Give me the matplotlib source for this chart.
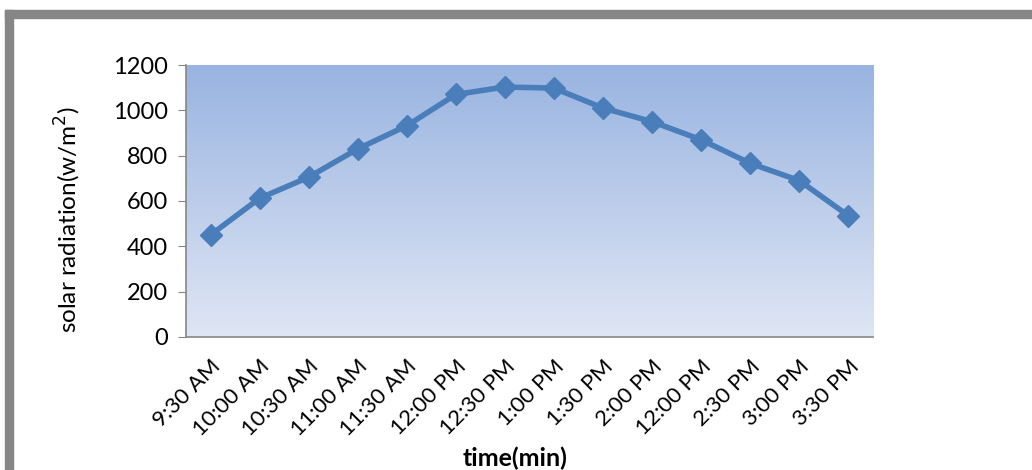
import matplotlib.pyplot as plt
import numpy as np
from matplotlib.patches import Rectangle

# solar radiation readings through the day
times = ['9:30 AM', '10:00 AM', '10:30 AM', '11:00 AM', '11:30 AM', '12:00 PM',
         '12:30 PM', '1:00 PM', '1:30 PM', '2:00 PM', '12:00 PM', '2:30 PM',
         '3:00 PM', '3:30 PM']
radiation = [450, 612, 705, 830, 932, 1070, 1103, 1098, 1010, 950, 870, 766, 690, 535]
yticks = [0, 200, 400, 600, 800, 1000, 1200]

plt.rcParams['font.family'] = ['Lato', 'DejaVu Sans']

fig = plt.figure(figsize=(10.32, 4.70), dpi=100)
ax = fig.add_axes([0.1802, 0.2830, 0.6657, 0.5787])

# gray frame along the top and left edge
fig.patches.append(Rectangle((5 / 1032, 0), 8 / 1032, 1 - 10 / 470,
                             transform=fig.transFigure, color='#868686', zorder=0))
fig.patches.append(Rectangle((5 / 1032, 1 - 18 / 470), 1, 8 / 470,
                             transform=fig.transFigure, color='#868686', zorder=0))

x = np.arange(len(times))
ax.set_xlim(-0.5, len(times) - 0.5)
ax.set_ylim(0, 1200)

# vertical gradient fill behind the plot
grad = np.linspace(0, 1, 256).reshape(-1, 1)
top = np.array([0x99, 0xb4, 0xe1]) / 255
bottom = np.array([0xdf, 0xe6, 0xf4]) / 255
img = top + (bottom - top) * grad[:, :, None]
ax.imshow(img, extent=[-0.5, len(times) - 0.5, 0, 1200], aspect='auto',
          origin='upper', zorder=0)

ax.plot(x, radiation, color='#4a7ebb', linewidth=4, marker='D', markersize=11.5,
        zorder=3)

ax.set_xticks(x)
ax.set_xticklabels(times, rotation=45, ha='right', rotation_mode='anchor',
                   fontsize=16)
ax.tick_params(axis='x', length=0, pad=14)
ax.set_yticks(yticks)
ax.tick_params(axis='y', length=6, color='#868686', labelsize=17, pad=7)

for side in ['top', 'right']:
    ax.spines[side].set_visible(False)
for side in ['left', 'bottom']:
    ax.spines[side].set_color('#868686')
    ax.spines[side].set_linewidth(1.2)

ax.set_ylabel('solar radiation(w/m$^2$)', fontsize=17.5)
ax.yaxis.set_label_coords(-0.172, 0.43)
ax.yaxis.label.set_va('center')
ax.set_xlabel('time(min)', fontsize=18, fontweight='bold')
ax.xaxis.set_label_coords(0.479, -0.445)
ax.xaxis.label.set_va('center')

fig.savefig('out.png', dpi=100)
